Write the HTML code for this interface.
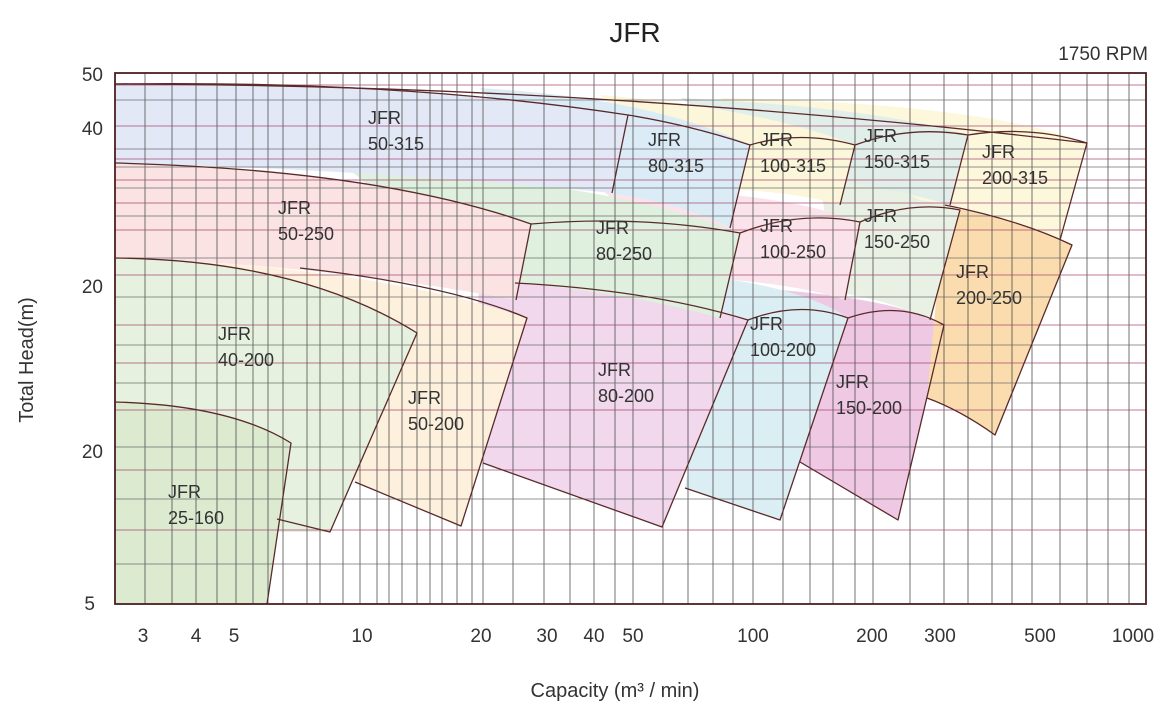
<!DOCTYPE html>
<html><head><meta charset="utf-8"><style>
body{margin:0;background:#fff;}
svg{display:block;font-family:"Liberation Sans",sans-serif;}
</style></head><body>
<svg width="1169" height="711" viewBox="0 0 1169 711">
<rect width="1169" height="711" fill="#fff"/>
<text x="635" y="42" font-size="28" text-anchor="middle" fill="#222">JFR</text>
<text x="1148" y="60" font-size="19" text-anchor="end" fill="#333">1750 RPM</text>
<g stroke="none">
<path d="M780,290 Q900,300 944,325 L898,520 L800,462 L790,400 Z" fill="#efc8e4"/>
<path d="M690,275 Q800,285 848,318 L780,520 L685,488 L700,400 Z" fill="#dbeef4"/>
<path d="M480,278 Q650,285 748,320 L662,527 L483,463 L470,400 Z" fill="#f1d8ec"/>
<path d="M200,262 Q400,275 527,318 L461,526 L355,482 L345,400 Z" fill="#fdf0dc"/>
<path d="M115,258 Q300,260 417,333 L330,532 L115,532 Z" fill="#e6f2df"/>
<path d="M115,402 Q230,405 291,443 L267,604 L115,604 Z" fill="#dcebd0"/>
<path d="M900,200 Q1020,215 1072,245 L995,435 Q960,410 927,398 L945,205 Z" fill="#fbdcae"/>
<path d="M820,178 Q910,190 960,210 L930,320 Q890,300 835,292 Z" fill="#e9f1e4"/>
<path d="M600,188 Q780,190 860,222 L845,300 Q790,282 700,278 Z" fill="#fae3ea"/>
<path d="M350,170 Q600,178 740,233 L720,318 Q620,290 480,280 Z" fill="#dff0df"/>
<path d="M115,163 Q380,170 531,224 L516,300 Q330,265 115,258 Z" fill="#fbe3e3"/>
<path d="M720,98 Q980,103 1087,143 L1060,240 Q1000,212 920,200 Z" fill="#fdf7dc"/>
<path d="M680,98 Q880,108 968,135 L950,205 Q900,190 820,178 Z" fill="#e2eeea"/>
<path d="M600,95 Q760,108 855,145 L840,205 Q790,190 700,188 Z" fill="#fcf6da"/>
<path d="M480,88 Q650,98 750,145 L730,228 Q680,200 560,186 Z" fill="#dcecf7"/>
<path d="M115,84 Q400,80 628,115 L612,193 Q380,170 115,163 Z" fill="#e3e8f7"/>
</g>
<path stroke="#444" stroke-opacity="0.75" stroke-width="1" fill="none" d="M145 73V604M172 73V604M196 73V604M217 73V604M236 73V604M253 73V604M268 73V604M283 73V604M307 73V604M320 73V604M343 73V604M360 73V604M377 73V604M389 73V604M402 73V604M417 73V604M430 73V604M442 73V604M457 73V604M472 73V604M483 73V604M513 73V604M544 73V604M570 73V604M594 73V604M615 73V604M633 73V604M663 73V604M688 73V604M713 73V604M733 73V604M753 73V604M783 73V604M810 73V604M833 73V604M855 73V604M873 73V604M910 73V604M944 73V604M968 73V604M992 73V604M1012 73V604M1032 73V604M1060 73V604M1087 73V604M1108 73V604M1129 73V604"/>
<path stroke="#a0406a" stroke-opacity="0.7" stroke-width="1" fill="none" d="M115 85H1146M115 126H1146M115 159H1146M115 180H1146M115 203H1146M115 230H1146M115 275H1146M115 325H1146M115 363H1146M115 410H1146M115 470H1146M115 530H1146"/>
<path stroke="#666" stroke-opacity="0.7" stroke-width="1" fill="none" d="M115 100H1146M115 149H1146M115 167H1146M115 188H1146M115 216H1146M115 258H1146M115 297H1146M115 345H1146M115 383H1146M115 447H1146M115 499H1146M115 564H1146"/>
<g stroke="#5a2a2a" stroke-width="1.3" fill="none" stroke-linejoin="round">
<path d="M115,84 Q400,80 628,115 L612,193"/><path d="M628,115 Q690,125 750,145 L730,228"/>
<path d="M750,145 Q800,130 855,145 L840,205"/><path d="M855,145 Q910,125 968,135 L950,205"/>
<path d="M968,135 Q1030,125 1087,143 L1060,240"/>
<path d="M115,84 Q600,85 1087,143"/>
<path d="M115,163 Q380,170 531,224 L516,300"/><path d="M531,224 Q640,215 740,233 L720,318"/>
<path d="M740,233 Q800,210 860,222 L845,300"/><path d="M860,222 Q910,200 960,210 L930,320"/>
<path d="M945,205 Q1020,220 1072,245 L995,435 Q960,410 927,398"/>
<path d="M115,258 Q300,260 417,333 L330,532 L277,519"/><path d="M300,268 Q450,285 527,318 L461,526 L355,482"/>
<path d="M515,283 Q650,290 748,320 L662,527 L483,463"/><path d="M748,320 Q800,300 848,318 L780,520 L685,488"/>
<path d="M848,318 Q900,300 944,325 L898,520 L800,462"/><path d="M115,402 Q230,405 291,443 L267,604"/>
</g>
<rect x="115" y="73" width="1031" height="531" fill="none" stroke="#4a2020" stroke-width="1.8"/>
<g font-size="18" fill="#333">
<text x="368" y="124">JFR</text><text x="368" y="150">50-315</text>
<text x="648" y="146">JFR</text><text x="648" y="172">80-315</text>
<text x="760" y="146">JFR</text><text x="760" y="172">100-315</text>
<text x="864" y="142">JFR</text><text x="864" y="168">150-315</text>
<text x="982" y="158">JFR</text><text x="982" y="184">200-315</text>
<text x="278" y="214">JFR</text><text x="278" y="240">50-250</text>
<text x="596" y="234">JFR</text><text x="596" y="260">80-250</text>
<text x="760" y="232">JFR</text><text x="760" y="258">100-250</text>
<text x="864" y="222">JFR</text><text x="864" y="248">150-250</text>
<text x="956" y="278">JFR</text><text x="956" y="304">200-250</text>
<text x="218" y="340">JFR</text><text x="218" y="366">40-200</text>
<text x="750" y="330">JFR</text><text x="750" y="356">100-200</text>
<text x="598" y="376">JFR</text><text x="598" y="402">80-200</text>
<text x="836" y="388">JFR</text><text x="836" y="414">150-200</text>
<text x="408" y="404">JFR</text><text x="408" y="430">50-200</text>
<text x="168" y="498">JFR</text><text x="168" y="524">25-160</text>
</g>
<g font-size="19" fill="#333" text-anchor="end">
<text x="103" y="81">50</text><text x="103" y="135">40</text><text x="103" y="293">20</text><text x="103" y="458">20</text><text x="95" y="610">5</text>
</g>
<g font-size="19" fill="#333" text-anchor="middle">
<text x="143" y="642">3</text><text x="196" y="642">4</text><text x="234" y="642">5</text><text x="362" y="642">10</text>
<text x="481" y="642">20</text><text x="547" y="642">30</text><text x="594" y="642">40</text><text x="633" y="642">50</text>
<text x="753" y="642">100</text><text x="872" y="642">200</text><text x="940" y="642">300</text><text x="1040" y="642">500</text><text x="1133" y="642">1000</text>
</g>
<text x="615" y="697" font-size="20" text-anchor="middle" fill="#333">Capacity (m³ / min)</text>
<text transform="translate(33,360) rotate(-90)" font-size="20" text-anchor="middle" fill="#333">Total Head(m)</text>
</svg>
</body></html>
